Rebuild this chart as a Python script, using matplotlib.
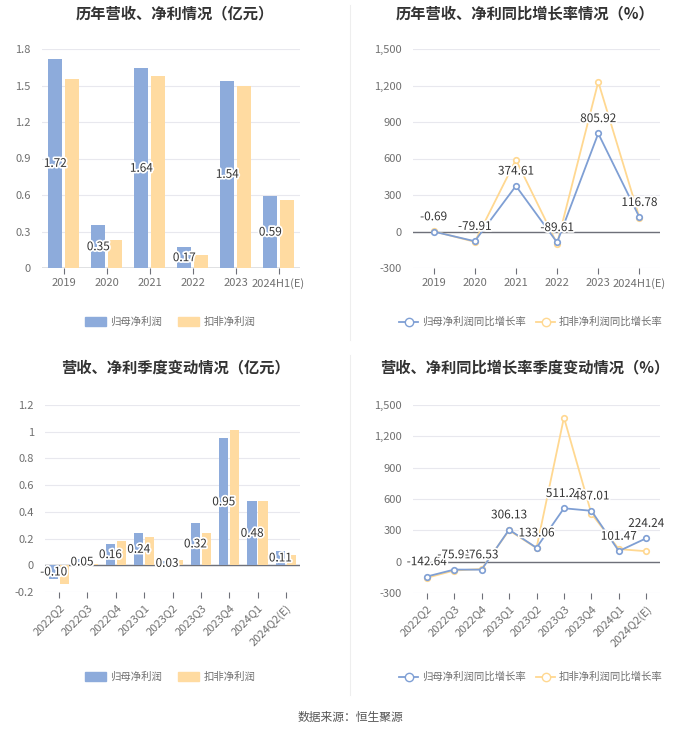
import matplotlib
matplotlib.use("Agg")
import matplotlib.pyplot as plt
import matplotlib.patheffects as pe
import numpy as np
from matplotlib.lines import Line2D
from matplotlib.patches import Patch

plt.rcParams['font.family'] = ['Noto Sans CJK SC', 'DejaVu Sans']

years = ['2019', '2020', '2021', '2022', '2023', '2024H1(E)']
profit = [1.72, 0.35, 1.64, 0.17, 1.54, 0.59]
profit_ded = [1.55, 0.23, 1.58, 0.11, 1.50, 0.56]
growth = [-0.69, -79.91, 374.61, -89.61, 805.92, 116.78]
growth_ded = [2, -85, 590, -100, 1230, 115]

quarters = ['2022Q2', '2022Q3', '2022Q4', '2023Q1', '2023Q2', '2023Q3', '2023Q4', '2024Q1', '2024Q2(E)']
q_profit = [-0.10, 0.05, 0.16, 0.24, 0.03, 0.32, 0.95, 0.48, 0.11]
q_profit_ded = [-0.14, 0.01, 0.18, 0.21, 0.04, 0.24, 1.01, 0.48, 0.08]
q_growth = [-142.64, -75.91, -76.53, 306.13, 133.06, 511.26, 487.01, 101.47, 224.24]
q_growth_ded = [-155, -85, -70, 300, 130, 1380, 460, 120, 100]

BLUE = '#8dabdb'
YEL = '#ffdba1'
LBLUE = '#7f9fd4'
LYEL = '#ffd891'
GRID = '#e8e8ee'
TICK = '#707070'

W, H = 700, 734
fig = plt.figure(figsize=(W/100, H/100), dpi=100)

def add_ax(x0, x1, ytop, ybot):
    return fig.add_axes([x0/W, 1 - ybot/H, (x1-x0)/W, (ybot-ytop)/H])

stroke = [pe.withStroke(linewidth=2.5, foreground='white')]

def style(ax, ylim, yticks, yfmt):
    ax.set_ylim(*ylim)
    ax.set_yticks(yticks)
    ax.set_yticklabels([yfmt(v) for v in yticks])
    ax.grid(axis='y', color=GRID, linewidth=0.8)
    ax.set_axisbelow(True)
    for s in ['top', 'right', 'left', 'bottom']:
        ax.spines[s].set_visible(False)
    ax.axhline(0, color='#6e7079', linewidth=1, zorder=2)
    ax.tick_params(axis='y', length=0, labelsize=8, colors=TICK, pad=8)
    ax.tick_params(axis='x', length=4, labelsize=8, colors=TICK, color='#6e7079')

def bar_chart(ax, cats, a, b, ylim, yticks, yfmt, rot=False):
    x = np.arange(len(cats))
    w = 0.33
    ax.bar(x - 0.19, a, w, color=BLUE, zorder=3)
    ax.bar(x + 0.19, b, w, color=YEL, zorder=3)
    ax.set_xlim(-0.5, len(cats) - 0.5)
    style(ax, ylim, yticks, yfmt)
    ax.set_xticks(x)
    if rot:
        ax.set_xticklabels(cats, rotation=45, ha='right', rotation_mode='anchor')
    else:
        ax.set_xticklabels(cats)
    for xi, v in zip(x, a):
        ax.text(xi - 0.19, v / 2, f'{v:.2f}', ha='center', va='center', fontsize=8.5,
                color='#333333', path_effects=stroke, zorder=5)

def line_chart(ax, cats, a, b, ylim, yticks, rot=False):
    x = np.arange(len(cats))
    ax.plot(x, b, color=LYEL, lw=1.3, marker='o', ms=4, mfc='white', mec=LYEL, mew=1.2, zorder=3)
    ax.plot(x, a, color=LBLUE, lw=1.3, marker='o', ms=4, mfc='white', mec=LBLUE, mew=1.2, zorder=4)
    ax.set_xlim(-0.5, len(cats) - 0.5)
    style(ax, ylim, yticks, lambda v: f'{int(v):,}')
    ax.set_xticks(x)
    if rot:
        ax.set_xticklabels(cats, rotation=45, ha='right', rotation_mode='anchor')
    else:
        ax.set_xticklabels(cats)
    for xi, v in zip(x, a):
        ax.annotate(f'{v:.2f}', (xi, v), xytext=(0, 6), textcoords='offset points',
                    ha='center', va='bottom', fontsize=8.5, color='#333333',
                    path_effects=stroke, zorder=6)

# Top-left
ax1 = add_ax(42, 300, 49, 268)
bar_chart(ax1, years, profit, profit_ded, (0, 1.8), [0, 0.3, 0.6, 0.9, 1.2, 1.5, 1.8],
          lambda v: '0' if v == 0 else f'{v:.1f}')

# Top-right
ax2 = add_ax(413, 660, 49, 268)
line_chart(ax2, years, growth, growth_ded, (-300, 1500), [-300, 0, 300, 600, 900, 1200, 1500])

# Bottom-left
ax3 = add_ax(45, 300, 405, 592)
bar_chart(ax3, quarters, q_profit, q_profit_ded, (-0.2, 1.2), [-0.2, 0, 0.2, 0.4, 0.6, 0.8, 1.0, 1.2],
          lambda v: '0' if abs(v) < 1e-9 else ('1' if abs(v-1) < 1e-9 else f'{v:.1f}'), rot=True)

# Bottom-right
ax4 = add_ax(413, 660, 405, 593)
line_chart(ax4, quarters, q_growth, q_growth_ded, (-300, 1500), [-300, 0, 300, 600, 900, 1200, 1500], rot=True)

# Titles
title_kw = dict(ha='center', va='center', fontsize=11, fontweight='bold', color='#333333')
fig.text(175/W, 1 - 13/H, '历年营收、净利情况（亿元）', **title_kw)
fig.text(525/W, 1 - 13/H, '历年营收、净利同比增长率情况（%）', **title_kw)
fig.text(175/W, 1 - 367/H, '营收、净利季度变动情况（亿元）', **title_kw)
fig.text(525/W, 1 - 367/H, '营收、净利同比增长率季度变动情况（%）', **title_kw)

# Legends
bar_handles = [Patch(color=BLUE, label='归母净利润'), Patch(color=YEL, label='扣非净利润')]
line_handles = [Line2D([0], [0], color=LBLUE, lw=1.3, marker='o', ms=6, mfc='white', mec=LBLUE, label='归母净利润同比增长率'),
                Line2D([0], [0], color=LYEL, lw=1.3, marker='o', ms=6, mfc='white', mec=LYEL, label='扣非净利润同比增长率')]
bar_leg_kw = dict(loc='center', ncol=2, frameon=False, fontsize=7.5, handlelength=2.0, handleheight=0.9,
                  columnspacing=1.6, handletextpad=0.4, labelcolor=TICK)
line_leg_kw = dict(loc='center', ncol=2, frameon=False, fontsize=7.5, handlelength=1.8,
                   columnspacing=1.0, handletextpad=0.4, labelcolor=TICK)
fig.legend(handles=bar_handles, bbox_to_anchor=(170/W, 1 - 322/H), **bar_leg_kw)
fig.legend(handles=line_handles, bbox_to_anchor=(531/W, 1 - 322/H), **line_leg_kw)
fig.legend(handles=bar_handles, bbox_to_anchor=(170/W, 1 - 677/H), **bar_leg_kw)
fig.legend(handles=line_handles, bbox_to_anchor=(531/W, 1 - 677/H), **line_leg_kw)

# Dividers
fig.add_artist(Line2D([350/W, 350/W], [1 - 5/H, 1 - 340/H], color='#eeeeee', lw=0.8))
fig.add_artist(Line2D([350/W, 350/W], [1 - 355/H, 1 - 695/H], color='#eeeeee', lw=0.8))

fig.text(350/W, 1 - 717/H, '数据来源：恒生聚源', ha='center', va='center', fontsize=8.5, color='#555555')

fig.savefig('out.png', dpi=100)
